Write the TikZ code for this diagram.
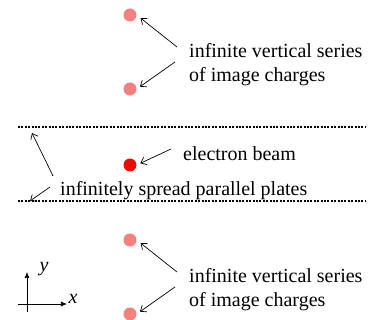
\documentclass[tikz,border=0pt]{standalone}
\usepackage{fontspec}
\setmainfont{Liberation Serif}
\usetikzlibrary{arrows.meta}
\definecolor{imgred}{RGB}{246,128,128}
\definecolor{beamred}{RGB}{236,10,10}
\tikzset{
  pointer/.style={
    ->, >={Straight Barb[length=5pt,width=8pt]}, % open arrow tip
    line width=0.7pt
  },
  charge/.style={circle, inner sep=0pt, minimum size=13pt},
  plate/.style={line width=2pt, dash pattern=on 2pt off 1.4pt},
  note/.style={font=\rmfamily\fontsize{20}{24}\selectfont, inner sep=0pt, align=left},
  axis/.style={-{Latex[length=6pt,width=5pt]}, line width=0.7pt}
}

\begin{document}
\begin{tikzpicture}[x=1pt, y=-1pt]
    \useasboundingbox (0,0) rectangle (368,320);

    % Image charges above and below the plates
    \foreach \off/\n in {0/a,225/b} {
    	\node[charge, fill=imgred] (\n1) at (130,15+\off) {};
    	\node[charge, fill=imgred] (\n2) at (130,89+\off) {};
    	\node[note, anchor=north west] (\n-lbl) at (189,43+\off)
    	    {infinite vertical series\\of image charges};
    	\coordinate (\n-s1) at (177,47+\off);
    	\coordinate (\n-s2) at (175,62+\off);
    	\draw[pointer, shorten >=5pt] (\n-s1) -- (\n1.east);
    	\draw[pointer, shorten >=4pt] (\n-s2) -- (\n2.east);
    }

    % Plates
    \coordinate (pl1) at (18,127.5);  \coordinate (pr1) at (365,127.5);
    \coordinate (pl2) at (18,201.5);  \coordinate (pr2) at (365,201.5);
    \draw[plate] (pl1) -- (pr1);
    \draw[plate] (pl2) -- (pr2);
    \node[note, anchor=base west] (plates) at (60,196) {infinitely spread parallel plates};
    \coordinate (p-s1) at (53,176);
    \coordinate (p-s2) at (50,187);
    \coordinate (p-t1) at (32,133);
    \coordinate (p-t2) at (30,201);
    \draw[pointer] (p-s1) -- (p-t1);
    \draw[pointer] (p-s2) -- (p-t2);

    % Electron beam
    \node[charge, fill=beamred] (beam) at (130,165) {};
    \node[note, anchor=base west] (beam-lbl) at (183,161) {electron beam};
    \coordinate (e-s) at (171,149);
    \draw[pointer, shorten >=4pt] (e-s) -- (beam.east);

    % Axes
    \coordinate (o) at (27,304);
    \coordinate (x0) at (18,304);  \coordinate (x1) at (67,304);
    \coordinate (y0) at (27,312);  \coordinate (y1) at (27,272);
    \draw[axis] (x0) -- (x1);
    \draw[axis] (y0) -- (y1);
    \node[note] (xlbl) at (73,299) {\textit{x}};
    \node[note] (ylbl) at (44,269) {\textit{y}};
\end{tikzpicture}
\end{document}
